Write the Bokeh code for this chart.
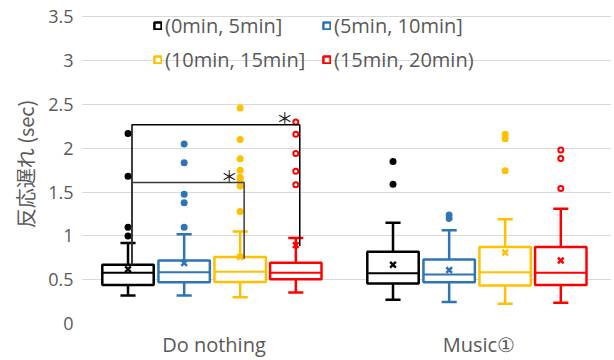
from bokeh.plotting import figure
from bokeh.models import FactorRange, Legend, LegendItem, FixedTicker, ColumnDataSource
from bokeh.transform import dodge
from bokeh.core.properties import value
from bokeh.embed import file_html
from bokeh.resources import INLINE

# ---------------- data ----------------
categories = ["Do nothing", "Music①"]
series = ["(0min, 5min]", "(5min, 10min]", "(10min, 15min]", "(15min, 20min)"]
colors = ["#000000", "#2E75B6", "#FFC000", "#FF0000"]
outlier_fill = ["#000000", "#2E75B6", "#FFC000", "#FFFFFF"]

# each list: [Do nothing, Music①]
lower_whisker = [[0.32, 0.27], [0.32, 0.245], [0.30, 0.225], [0.355, 0.237]]
q1 = [[0.44, 0.456], [0.47, 0.47], [0.475, 0.434], [0.505, 0.44]]
median = [[0.58, 0.574], [0.585, 0.56], [0.59, 0.585], [0.58, 0.58]]
q3 = [[0.67, 0.82], [0.72, 0.73], [0.76, 0.873], [0.695, 0.873]]
upper_whisker = [[0.92, 1.15], [1.02, 1.066], [1.05, 1.19], [0.975, 1.31]]
means = [[0.62, 0.67], [0.69, 0.61], [0.76, 0.81], [0.895, 0.72]]
outliers = [
    [[1.00, 1.10, 1.68, 2.17], [1.59, 1.85]],
    [[1.10, 1.38, 1.475, 1.835, 2.05], [1.20, 1.24]],
    [[1.28, 1.57, 1.635, 1.67, 1.75, 1.88, 2.10, 2.46], [1.745, 2.11, 2.16]],
    [[1.585, 1.737, 1.94, 2.16, 2.30], [1.54, 1.885, 1.98]],
]

y_ticks = [0, 0.5, 1, 1.5, 2, 2.5, 3, 3.5]
y_tick_labels = ["0", "0.5", "1", "1.5", "2", "2.5", "3", "3.5"]

# significance brackets: (category, from series, to series, top, left bottom, right bottom)
brackets = [
    ("Do nothing", 0, 3, 2.27, 0.67, 0.885),
    ("Do nothing", 0, 2, 1.61, 0.67, 0.74),
]
bracket_colors = ["#000000", "#3A3A3A"]

# ---------------- layout constants ----------------
offsets = [-0.3245, -0.1126, 0.0987, 0.3087]
box_w = 0.194
cap_w = 0.057
br_shift = 0.015
grey = "#595959"
px_per_unit = 88.0
top_pad_px = 12.5

p = figure(
    x_range=FactorRange(factors=categories, range_padding=0),
    y_range=(0, 3.5 + top_pad_px / px_per_unit),
    width=614, height=360,
    output_backend="svg", toolbar_location=None,
    min_border_left=81, min_border_right=3, min_border_top=4, min_border_bottom=36,
)
p.outline_line_color = None
p.xgrid.grid_line_color = None
p.ygrid.grid_line_color = "#D9D9D9"
p.ygrid.grid_line_width = 1

p.yaxis.ticker = FixedTicker(ticks=y_ticks)
p.yaxis.major_label_overrides = {t: l for t, l in zip(y_ticks, y_tick_labels)}
for ax in (p.xaxis[0], p.yaxis[0]):
    ax.axis_line_color = None
    ax.major_tick_line_color = None
    ax.minor_tick_line_color = None
    ax.major_tick_out = 0
    ax.major_tick_in = 0
    ax.major_label_text_color = grey
    ax.major_label_text_font = "Open Sans"
p.yaxis.major_label_text_font_size = "18px"
p.yaxis.major_label_standoff = 8
p.xaxis.major_label_text_font_size = "20px"
p.xaxis.major_label_standoff = 7
p.yaxis.axis_label = "反応遅れ (sec)"
p.yaxis.axis_label_text_font = "Noto Sans CJK JP"
p.yaxis.axis_label_text_font_size = "20px"
p.yaxis.axis_label_text_font_style = "normal"
p.yaxis.axis_label_text_color = grey
p.yaxis.axis_label_standoff = 5

legend_items = []
for i, s in enumerate(series):
    c = colors[i]
    off = offsets[i]
    src = ColumnDataSource(dict(
        cat=categories, lw=lower_whisker[i], q1=q1[i], med=median[i],
        q3=q3[i], uw=upper_whisker[i], mean=means[i],
    ))
    xc = dodge("cat", off, range=p.x_range)
    xl = dodge("cat", off - cap_w / 2, range=p.x_range)
    xr = dodge("cat", off + cap_w / 2, range=p.x_range)
    bl = dodge("cat", off - box_w / 2, range=p.x_range)
    brr = dodge("cat", off + box_w / 2, range=p.x_range)
    # whiskers
    p.segment(x0=xc, y0="q3", x1=xc, y1="uw", source=src, line_color=c, line_width=2.5)
    p.segment(x0=xc, y0="q1", x1=xc, y1="lw", source=src, line_color=c, line_width=2.5)
    p.segment(x0=xl, y0="uw", x1=xr, y1="uw", source=src, line_color=c, line_width=2.5)
    p.segment(x0=xl, y0="lw", x1=xr, y1="lw", source=src, line_color=c, line_width=2.5)
    # box
    box = p.vbar(x=xc, width=box_w, bottom="q1", top="q3", source=src,
                 fill_color="white", line_color=c, line_width=2.5)
    p.segment(x0=bl, y0="med", x1=brr, y1="med", source=src, line_color=c, line_width=2)
    # mean
    p.scatter(x=xc, y="mean", source=src, marker="x", size=8, line_color=c, line_width=2.5)
    # outliers
    oc, oy = [], []
    for k, cat in enumerate(categories):
        for v in outliers[i][k]:
            oc.append(cat)
            oy.append(v)
    osrc = ColumnDataSource(dict(cat=oc, y=oy))
    p.scatter(x=dodge("cat", off, range=p.x_range), y="y", source=osrc, marker="circle",
              size=5, fill_color=outlier_fill[i], line_color=c, line_width=2)
    legend_items.append(LegendItem(label=s, renderers=[box]))

# significance brackets
for (cat, a, b, top, lb, rb), bc in zip(brackets, bracket_colors):
    base = categories.index(cat) + 0.5
    xa = base + offsets[a] + br_shift
    xb = base + offsets[b] + br_shift
    p.line(x=[xa, xa, xb, xb], y=[lb, top, top, rb], line_color=bc, line_width=1.5)
    p.text(x=[xb], y=[top], text=["＊"], x_offset=-15, y_offset=-7,
           text_align="center", text_baseline="middle",
           text_font=value("Noto Sans CJK JP"), text_font_size="17px", text_color="#262626")

legend = Legend(
    items=legend_items, ncols=2, orientation="horizontal",
    location=(72, 250),
    glyph_width=9, glyph_height=9, label_height=21, label_width=150, label_standoff=3,
    spacing=7, padding=0, margin=0,
    label_text_font="Open Sans", label_text_font_size="20px", label_text_color=grey,
    border_line_color=None, background_fill_alpha=0,
)
p.add_layout(legend)

open("out.html", "w").write(file_html(p, INLINE))
